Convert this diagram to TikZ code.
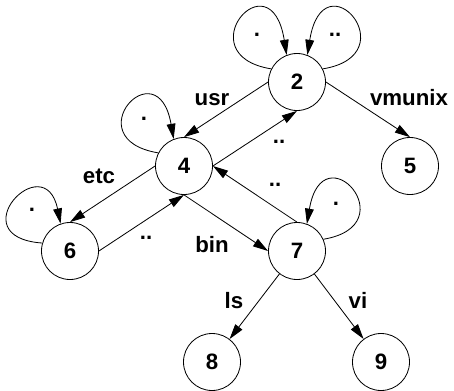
\documentclass[tikz,border=0pt]{standalone}
\usepackage{fontspec}
\setmainfont{Liberation Sans}
\usetikzlibrary{arrows.meta}
\begin{document}
\begin{tikzpicture}[x=0.03cm,y=-0.03cm,
  state/.style={circle,draw,line width=0.7pt,minimum size=1.71cm,inner sep=0pt,font=\fontsize{19}{23}\selectfont\bfseries},
  lbl/.style={inner sep=0pt,font=\fontsize{19}{23}\selectfont\bfseries},
  arr/.style={draw,line width=0.7pt,-{Triangle[length=13pt,width=7.5pt]}},
]
\useasboundingbox (0,0) rectangle (454,390);
\node[state] (n2) at (297,82) {2};
\node[state] (n4) at (184,166) {4};
\node[state] (n5) at (410,166) {5};
\node[state] (n6) at (70,251) {6};
\node[state] (n7) at (297,251) {7};
\node[state] (n8) at (212,362) {8};
\node[state] (n9) at (381,362) {9};
% straight edges
\draw[arr] (n2.west) -- (n4.north);
\draw[arr] (n4.east) -- (n2.south);
\draw[arr] (n2.east) -- (n5.north);
\draw[arr] (n4.west) -- (n6.north);
\draw[arr] (n6.east) -- (n4.south);
\draw[arr] (n4.south) -- (n7.west);
\draw[arr] (n7.north) -- (n4.east);
\draw[arr] (n7) -- (n8);
\draw[arr] (n7) -- (n9);
% loops
\draw[arr] (n2.153) .. controls +(-86,-14) and +(-16,-100) .. (n2.111);
\draw[arr] (n2.27) .. controls +(86,-14) and +(16,-100) .. (n2.69);
\draw[arr] (n4.153) .. controls +(-84,-14) and +(-16,-92) .. (n4.111);
\draw[arr] (n6.164) .. controls +(-84,-6) and +(-16,-78) .. (n6.109);
\draw[arr] (n7.24) .. controls +(84,-14) and +(16,-94) .. (n7.70);
% labels
\node[lbl,anchor=base] (lusr) at (212,105) {usr};
\node[lbl,anchor=base] (lvm) at (409,105) {vmunix};
\node[lbl,anchor=base] (letc) at (99,183) {etc};
\node[lbl,anchor=base] (lbin) at (212,252) {bin};
\node[lbl,anchor=base] (lls) at (234,308) {ls};
\node[lbl,anchor=base] (lvi) at (358,308) {vi};
\node[lbl] (d2a) at (257,35) {.};
\node[lbl] (d2b) at (335,35) {..};
\node[lbl] (d4a) at (144,119) {.};
\node[lbl] (d42) at (279,142) {..};
\node[lbl] (d6a) at (32,210) {.};
\node[lbl] (d64) at (146,238) {..};
\node[lbl] (d74) at (275,185) {..};
\node[lbl] (d7a) at (336,204) {.};
\end{tikzpicture}
\end{document}
